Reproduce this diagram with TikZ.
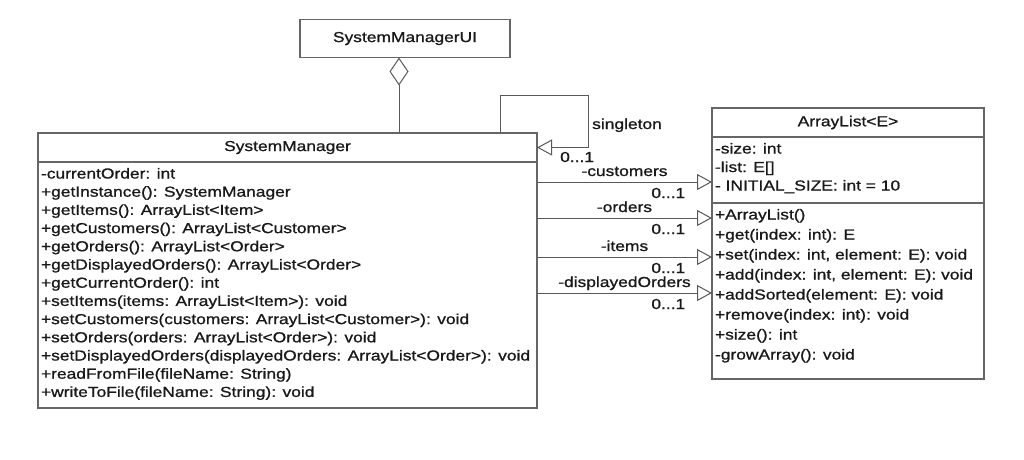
\documentclass[tikz,border=0pt]{standalone}
\usepackage{fontspec}
\setmainfont{Liberation Sans}[FakeStretch=1.2,FakeBold=1]
\usetikzlibrary{positioning,arrows.meta}

\newcommand{\members}[3]{\parbox[t][#1][t]{#2}{#3}}

\tikzset{
  umlbox/.style={draw=black!60, line width=1.3pt, outer sep=0pt, inner xsep=3pt, inner ysep=6pt,
    text=black!90, font=\fontsize{14.5}{18.2}\selectfont},
  assoc/.style={draw=black!65, line width=1pt, -{Triangle[open,length=15pt,width=16pt,fill=white]}},
  aggr/.style={draw=black!65, line width=1pt, -{Diamond[open,length=28pt,width=19pt,fill=white]}},
  lbl/.style={font=\fontsize{14.5}{17}\selectfont, text=black!90, inner sep=0pt}
}

\begin{document}
\begin{tikzpicture}[x=1pt,y=-1pt]
\useasboundingbox (0,0) rectangle (1024,459);

\node[umlbox, minimum width=210pt, minimum height=38pt, inner ysep=3pt] (ui) at (405,38.5) {SystemManagerUI};

\node[umlbox, minimum width=499pt, minimum height=29pt, inner ysep=3pt] (smtitle) at (287.5,147.5) {SystemManager};
\node[umlbox, below=0pt of smtitle] (smbody) {\members{234pt}{493pt}{%
-currentOrder: int\\
+getInstance(): SystemManager\\
+getItems(): ArrayList<Item>\\
+getCustomers(): ArrayList<Customer>\\
+getOrders(): ArrayList<Order>\\
+getDisplayedOrders(): ArrayList<Order>\\
+getCurrentOrder(): int\\
+setItems(items: ArrayList<Item>): void\\
+setCustomers(customers: ArrayList<Customer>): void\\
+setOrders(orders: ArrayList<Order>): void\\
+setDisplayedOrders(displayedOrders: ArrayList<Order>): void\\
+readFromFile(fileName: String)\\
+writeToFile(fileName: String): void}};

\node[umlbox, minimum width=272pt, minimum height=29pt, inner ysep=3pt] (altitle) at (848,122.5) {ArrayList<E>};
\node[umlbox, below=0pt of altitle, font=\fontsize{14.5}{18.5}\selectfont] (alattr) {\members{54pt}{266pt}{%
-size: int\\
-list: E[]\\
- INITIAL\_SIZE: int = 10}};
\node[umlbox, below=0pt of alattr, font=\fontsize{14.5}{20}\selectfont] (almeth) {\members{164pt}{266pt}{%
+ArrayList()\\
+get(index: int): E\\
+set(index: int, element: E): void\\
+add(index: int, element: E): void\\
+addSorted(element: E): void\\
+remove(index: int): void\\
+size(): int\\
-growArray(): void}};

% aggregation
\coordinate (aggx) at (399,0);
\draw[aggr] (smtitle.north -| aggx) -- (ui.south -| aggx);

% singleton
\coordinate (loopa) at (500,95);
\coordinate (loopb) at (588,95);
\draw[assoc] (smtitle.north -| loopa) |- (loopb) |- (smtitle.east);
\node[lbl, anchor=base west] (single) at (592,129) {singleton};
\node[lbl, anchor=base west] (selfmult) at (560,162) {0...1};

% associations
\foreach \y/\role in {182/customers,218/orders,257/items,293/displayedOrders}{
  \coordinate (row) at (0,\y);
  \draw[assoc] (smbody.east |- row) -- node[lbl, anchor=base, yshift=6pt]{-\role}
    node[lbl, pos=0.85, anchor=base east, yshift=-16pt]{0...1} (alattr.west |- row);
}
\end{tikzpicture}
\end{document}
